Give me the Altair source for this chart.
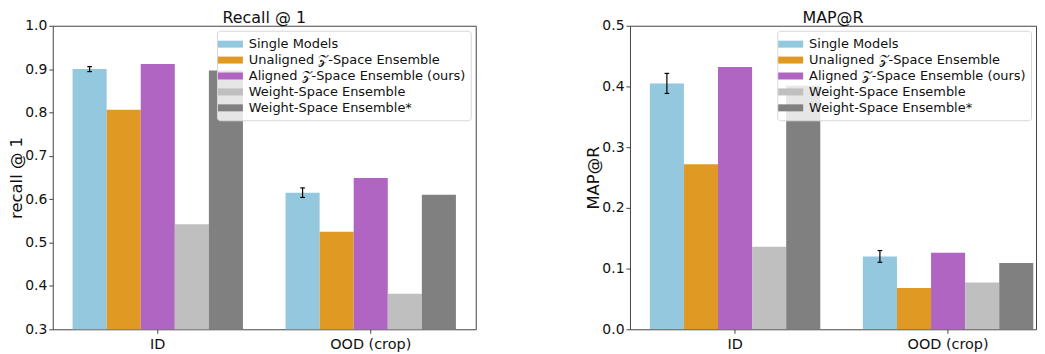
import altair as alt
import pandas as pd

FONT = "DejaVu Sans"

groups = ["ID", "OOD (crop)"]
series = [
    "Single Models",
    "Unaligned 𝒵-Space Ensemble",
    "Aligned 𝒵-Space Ensemble (ours)",
    "Weight-Space Ensemble",
    "Weight-Space Ensemble*",
]
colors = ["#94c8de", "#e09a23", "#b065c2", "#bfbfbf", "#808080"]

recall_id = [0.900, 0.806, 0.912, 0.542, 0.897]
recall_ood = [0.615, 0.525, 0.649, 0.382, 0.610]
recall_err = [0.0057, 0.011]

map_id = [0.405, 0.272, 0.432, 0.136, 0.401]
map_ood = [0.120, 0.068, 0.126, 0.077, 0.109]
map_err = [0.0165, 0.0097]

recall_ticks = [0.3, 0.4, 0.5, 0.6, 0.7, 0.8, 0.9, 1.0]
map_ticks = [0.0, 0.1, 0.2, 0.3, 0.4, 0.5]

LEG_SHAPE = "M-1.5,-0.42L1.5,-0.42L1.5,0.42L-1.5,0.42Z"
CAP_SHAPE = "M-1,0L1,0"


def panel(id_vals, ood_vals, errs, title, ytitle, domain, ticks, width, pad_outer, align):
    rows = []
    for g, vals in zip(groups, [id_vals, ood_vals]):
        for s, v in zip(series, vals):
            rows.append({"group": g, "series": s, "value": v})
    df = pd.DataFrame(rows)
    single = df[df["series"] == series[0]].copy()
    single["lo"] = [v - e for v, e in zip(single["value"], errs)]
    single["hi"] = [v + e for v, e in zip(single["value"], errs)]

    x = alt.X(
        "group:N",
        sort=groups,
        scale=alt.Scale(domain=groups, paddingInner=0.2, paddingOuter=pad_outer, align=align),
        axis=alt.Axis(title=None, labelAngle=0, labelFontSize=14.5, labelFont=FONT,
                      labelColor="#111", tickSize=4, tickColor="#444", labelPadding=4,
                      domain=False),
    )
    xo = alt.XOffset("series:N", scale=alt.Scale(domain=series, paddingInner=0, paddingOuter=0))
    yscale = alt.Scale(domain=domain, nice=False, zero=False)
    yaxis = alt.Axis(values=ticks, format=".1f", title=ytitle, grid=False, tickSize=4,
                     tickColor="#444", labelFontSize=14, labelFont=FONT, labelColor="#111",
                     titleFontSize=16.5, titleFont=FONT, titleFontWeight="normal",
                     titleColor="#111", domain=False, labelPadding=2, titlePadding=0)

    bars = alt.Chart(df).mark_bar(clip=True).encode(
        x=x,
        xOffset=xo,
        y=alt.Y("value:Q", scale=yscale, axis=yaxis),
        color=alt.Color(
            "series:N",
            scale=alt.Scale(domain=series, range=colors),
            legend=alt.Legend(
                title=None, orient="top-right", offset=5, symbolType=LEG_SHAPE,
                symbolSize=280, symbolStrokeWidth=0, symbolOpacity=1,
                labelFontSize=13, labelFont=FONT, labelColor="#111", labelLimit=300,
                labelOffset=10, rowPadding=0, padding=5,
                fillColor="rgba(255,255,255,0.8)", strokeColor="#d6d6d6", cornerRadius=3,
            ),
        ),
    )
    base = alt.Chart(single)
    rule = base.mark_rule(color="black", strokeWidth=1.2).encode(
        x=x, xOffset=xo, y=alt.Y("lo:Q", scale=yscale), y2="hi:Q"
    )
    cap_hi = base.mark_point(shape=CAP_SHAPE, size=22, color="black", filled=False,
                             strokeWidth=1.2, opacity=1).encode(
        x=x, xOffset=xo, y=alt.Y("hi:Q", scale=yscale)
    )
    cap_lo = base.mark_point(shape=CAP_SHAPE, size=22, color="black", filled=False,
                             strokeWidth=1.2, opacity=1).encode(
        x=x, xOffset=xo, y=alt.Y("lo:Q", scale=yscale)
    )
    return alt.layer(bars, rule, cap_hi, cap_lo).properties(
        width=width,
        height=305,
        title=alt.TitleParams(title, fontSize=16, font=FONT, fontWeight="normal",
                              color="#111", anchor="middle", offset=0, dy=7),
    )


left = panel(recall_id, recall_ood, recall_err, "Recall @ 1", "recall @ 1",
             [0.3, 1.0], recall_ticks, 425, 0.093, 0.5)
right = panel(map_id, map_ood, map_err, "MAP@R", "MAP@R",
              [0.0, 0.5], map_ticks, 408, 0.053, 0.88)

chart = (
    alt.hconcat(left, right, spacing=109,
                padding={"top": 0, "left": 0, "right": 0, "bottom": 0})
    .resolve_scale(color="independent", y="independent", x="independent", xOffset="independent")
    .configure(background="white")
    .configure_view(stroke="#444", strokeWidth=1)
)

chart.save("out.html", embed_options={"renderer": "svg", "actions": False})
